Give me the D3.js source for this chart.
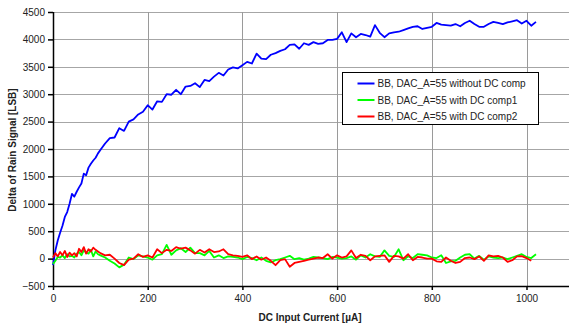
<!DOCTYPE html>
<html>
<head>
<meta charset="utf-8">
<script src="https://cdn.jsdelivr.net/npm/d3@7"></script>
<style>
  body { margin: 0; background: #fff; }
  svg { display: block; font-family: "Liberation Sans", Arial, sans-serif; }
</style>
</head>
<body>
<div id="chart"></div>
<script>
// DC input current samples [µA]
var current = [0, 5, 10, 15, 20, 25, 30, 35, 40, 45, 50, 55, 60, 65, 70, 75, 80, 85, 90, 95, 100,
  110, 120, 130, 140, 150, 160, 170, 180, 190, 200, 210, 220, 230, 240, 250, 260, 270, 280, 290,
  300, 310, 320, 330, 340, 350, 360, 370, 380, 390, 400, 410, 420, 430, 440, 450, 460, 470, 480, 490,
  500, 510, 520, 530, 540, 550, 560, 570, 580, 590, 600, 610, 620, 630, 640, 650, 660, 670, 680, 690,
  700, 710, 720, 730, 740, 750, 760, 770, 780, 790, 800, 810, 820, 830, 840, 850, 860, 870, 880, 890,
  900, 910, 920, 930, 940, 950, 960, 970, 980, 990, 1000, 1010, 1020];

var noComp = [-120, 150, 330, 470, 600, 760, 850, 1000, 1180, 1130, 1220, 1300, 1370, 1550, 1520, 1660, 1730, 1790, 1840, 1920, 1980,
  2100, 2200, 2210, 2380, 2330, 2500, 2540, 2630, 2680, 2800, 2720, 2870, 2860, 3000, 2990, 3080, 3000, 3140, 3150,
  3200, 3130, 3260, 3240, 3320, 3390, 3340, 3450, 3490, 3470, 3530, 3590, 3560, 3740, 3650, 3640, 3720, 3750, 3790, 3820,
  3900, 3910, 3830, 3930, 3900, 3950, 3920, 3930, 3990, 3990, 4010, 4130, 3950, 4110, 4040, 4100, 4080, 4050, 4260, 4120,
  4040, 4110, 4130, 4140, 4170, 4200, 4230, 4240, 4190, 4210, 4230, 4300, 4270, 4260, 4250, 4280, 4240, 4300, 4340, 4280,
  4230, 4230, 4280, 4320, 4300, 4280, 4310, 4330, 4350, 4290, 4340, 4250, 4320];

var comp1 = [-100, -40, 30, 20, 60, 10, 80, 40, 50, 20, 90, 120, 60, 150, 110, 90, 160, 40, 130, 80, 60,
  20, -40, -90, -160, -110, 20, -10, 60, 40, 20, -20, 60, 80, 250, 70, 150, 190, 120, 200,
  100, 100, 60, 140, 20, 60, 10, 40, 30, 20, -10, 30, 10, -30, 20, -40, -70, -30, -10, 20,
  50, -10, 10, -20, 0, 30, 20, 10, -10, 30, 20, 0, 10, 40, -20, 60, 20, 80, 40, 30,
  150, 50, 30, 170, -30, 40, 10, 80, 70, 60, 20, 10, 60, -80, -50, -40, 20, 70, 80, 0,
  50, -20, 40, 20, 10, 20, -10, 20, 50, 80, 30, 10, 80];

var comp2 = [20, 100, 40, 120, 60, 140, 30, 110, 60, 100, 40, 180, 120, 210, 90, 170, 130, 200, 160, 130, 100,
  60, 70, 0, -80, -120, -20, 0, 80, 30, 60, 20, 170, 100, 160, 140, 210, 180, 200, 150,
  90, 160, 110, 170, 120, 130, 170, 80, 60, 50, 30, 60, -10, 40, -20, 20, -40, -120, -30, -10,
  -150, -80, -60, -40, -20, 0, 20, 10, 80, 0, 60, 20, 40, 150, 10, 70, 50, -30, 40, 50,
  60, -60, 50, 40, 0, 80, -30, 30, 20, 0, 0, -50, -60, 20, -40, -80, -60, 10, 20, -10,
  40, -40, 60, 40, 50, 20, -60, -30, 40, 45, 10, -40, null];

var seriesNames = ["BB, DAC_A=55 without DC comp", "BB, DAC_A=55 with DC comp1", "BB, DAC_A=55 with DC comp2"];
var seriesColors = ["#0000ff", "#00ff00", "#ff0000"];
var xTicks = [0, 200, 400, 600, 800, 1000];
var yTicks = [-500, 0, 500, 1000, 1500, 2000, 2500, 3000, 3500, 4000, 4500];

var width = 569, height = 326,
    plotLeft = 53, plotTop = 12, plotBottom = 286;

var svg = d3.select("#chart").append("svg")
    .attr("width", width)
    .attr("height", height);

var x = d3.scaleLinear().domain([0, 1200]).range([plotLeft, plotLeft + 1200 * 0.4735]);
var y = d3.scaleLinear().domain([-500, 4500]).range([plotBottom, plotTop]);

// grid lines
svg.append("g").selectAll("line")
    .data(yTicks.filter(function (d) { return d > -500; }))
    .enter().append("line")
    .attr("x1", plotLeft).attr("x2", width)
    .attr("y1", function (d) { return Math.round(y(d)) + 0.5; })
    .attr("y2", function (d) { return Math.round(y(d)) + 0.5; })
    .attr("stroke", "#a6a6a6");
svg.append("g").selectAll("line")
    .data(xTicks.filter(function (d) { return d > 0; }))
    .enter().append("line")
    .attr("x1", function (d) { return Math.round(x(d)) + 0.5; })
    .attr("x2", function (d) { return Math.round(x(d)) + 0.5; })
    .attr("y1", plotTop).attr("y2", plotBottom)
    .attr("stroke", "#9a9a9a");

// axes
var yAxis = svg.append("g")
    .attr("transform", "translate(" + plotLeft + ",0)")
    .call(d3.axisLeft(y).tickValues(yTicks).tickFormat(d3.format("d")).tickSize(5).tickPadding(3));
var xAxis = svg.append("g")
    .attr("transform", "translate(0," + plotBottom + ")")
    .call(d3.axisBottom(x).tickValues(xTicks).tickFormat(d3.format("d")).tickSize(4).tickPadding(5));
[xAxis, yAxis].forEach(function (a) {
    a.selectAll("text").attr("font-size", 10).attr("fill", "#222")
        .attr("font-family", "'Liberation Sans', Arial, sans-serif");
    a.selectAll("line, path").attr("stroke", "#000").attr("stroke-width", 1.5);
});
xAxis.select(".domain").attr("d", "M" + plotLeft + ",0.5H" + width);
yAxis.select(".domain").attr("d", "M0.5," + plotTop + "V" + (plotBottom + 1));

// series
var line = d3.line()
    .defined(function (d) { return d[1] !== null; })
    .x(function (d) { return x(d[0]); })
    .y(function (d) { return y(d[1]); });

[noComp, comp1, comp2].forEach(function (vals, i) {
    svg.append("path")
        .datum(current.map(function (c, j) { return [c, vals[j]]; }))
        .attr("fill", "none")
        .attr("stroke", seriesColors[i])
        .attr("stroke-width", 1.8)
        .attr("stroke-linejoin", "round")
        .attr("d", line);
});

// axis titles
svg.append("text")
    .attr("x", 310).attr("y", 321)
    .attr("text-anchor", "middle")
    .attr("font-size", 10).attr("font-weight", "bold").attr("fill", "#222")
    .text("DC Input Current [µA]");
svg.append("text")
    .attr("transform", "translate(16,150) rotate(-90)")
    .attr("text-anchor", "middle")
    .attr("font-size", 10).attr("font-weight", "bold").attr("fill", "#222")
    .text("Delta of Rain Signal [LSB]");

// legend
var legend = svg.append("g").attr("transform", "translate(342.5,72.5)");
legend.append("rect")
    .attr("width", 196).attr("height", 52)
    .attr("fill", "#fff").attr("stroke", "#000");
seriesNames.forEach(function (name, i) {
    var ly = 11 + i * 16.5;
    legend.append("line")
        .attr("x1", 15).attr("x2", 32)
        .attr("y1", ly).attr("y2", ly)
        .attr("stroke", seriesColors[i]).attr("stroke-width", 2);
    legend.append("text")
        .attr("x", 35).attr("y", ly + 3.5)
        .attr("font-size", 10).attr("fill", "#222")
        .text(name);
});
</script>
</body>
</html>
